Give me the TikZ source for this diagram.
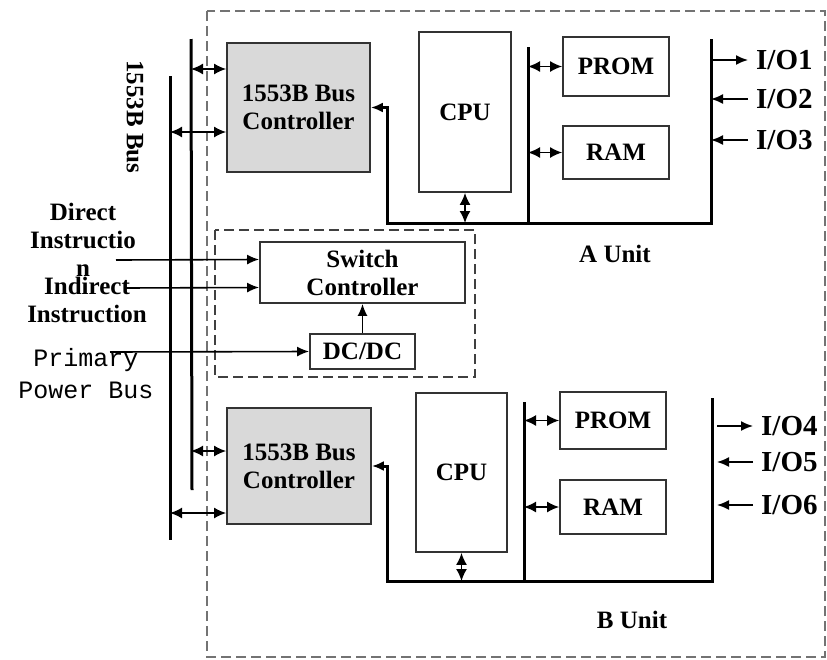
\documentclass[tikz,border=0pt]{standalone}
\usepackage{fontspec}
\setmainfont{Liberation Serif}
\newfontfamily\monofont{Liberation Mono}
\usetikzlibrary{arrows.meta}
\tikzset{
	blk/.style={draw=black!80, line width=1.8pt, inner sep=0pt, font=\bfseries\fontsize{25}{28}\selectfont, align=center},
	ctrl/.style={blk, fill=black!15},
	bus/.style={line width=3pt},
	dbl/.style={{Latex[length=12pt,width=11pt]}-{Latex[length=12pt,width=11pt]}, line width=1.6pt},
	sgl/.style={-{Latex[length=12pt,width=10pt]}, line width=1.6pt},
	lbl/.style={font=\bfseries\fontsize{25}{28}\selectfont, align=center},
	iolbl/.style={font=\bfseries\fontsize{29}{32}\selectfont, anchor=west, inner sep=8pt},
	unitbox/.style={dashed, dash pattern=on 10pt off 5pt, line width=1.6pt, draw=black!55},
	swbox/.style={dashed, dash pattern=on 10pt off 5pt, line width=1.6pt, draw=black!75}
}
\begin{document}
\begin{tikzpicture}[x=1pt, y=-1pt]
	\useasboundingbox (0,0) rectangle (827,659);
	\draw[unitbox] (207,11) rectangle (825,657);
	\draw[swbox] (215,230) rectangle (475,377);

	\node[ctrl, minimum width=143pt, minimum height=129pt] (bcA) at (298.5,107.5) {1553B Bus\\Controller};
	\node[ctrl, minimum width=144pt, minimum height=116pt] (bcB) at (299,466) {1553B Bus\\Controller};
	\node[blk, minimum width=92pt, minimum height=160pt] (cpuA) at (465,112) {CPU};
	\node[blk, minimum width=91pt, minimum height=159pt] (cpuB) at (461.5,472.5) {CPU};
	\node[blk, minimum width=106pt, minimum height=59pt] (promA) at (616,66.5) {PROM};
	\node[blk, minimum width=106pt, minimum height=53pt] (ramA) at (616,152.5) {RAM};
	\node[blk, minimum width=106pt, minimum height=57pt] (promB) at (613,420.5) {PROM};
	\node[blk, minimum width=106pt, minimum height=54pt] (ramB) at (613,507) {RAM};
	\node[blk, minimum width=205pt, minimum height=61pt] (sw) at (362.5,272.5) {Switch\\Controller};
	\node[blk, minimum width=105pt, minimum height=35pt] (dcdc) at (362.5,351.5) {DC/DC};

	\node[lbl, rotate=-90] (busname) at (135,117) {1553B Bus};
	\node[lbl] (direct) at (83,240) {Direct\\Instructio\\n};
	\node[lbl] (indirect) at (87,300) {Indirect\\Instruction};
	\node[font=\monofont\fontsize{25}{32}\selectfont, align=center] (power) at (86,374) {Primary\\Power Bus};
	\node[lbl] (unitA) at (615,254) {A Unit};
	\node[lbl] (unitB) at (632,620) {B Unit};

	\coordinate (busLtop) at (170,76);
	\coordinate (busLbot) at (170,540);
	\coordinate (busRtop) at (191,39);
	\coordinate (busRbot) at (192,490);
	\draw[bus] (busLtop) -- (busLbot);
	\draw[bus] (busRtop) -- (busRbot);
	\draw[dbl] (busRtop |- 0,69) -- (bcA.west |- 0,69);
	\draw[dbl] (busLtop |- 0,132) -- (bcA.west |- 0,132);
	\draw[dbl] (busRtop |- 0,451) -- (bcB.west |- 0,451);
	\draw[dbl] (busLtop |- 0,513) -- (bcB.west |- 0,513);

	\coordinate (aL) at (387,223);
	\coordinate (aM) at (528,223);
	\coordinate (aR) at (711,223);
	\draw[bus] (528,47) -- (aM);
	\draw[bus, -{Latex[length=12pt,width=10pt]}] (711,39) -- (aR) -- (aL) -- (aL |- bcA.east) -- (bcA.east);
	\draw[dbl] (cpuA.south) -- (cpuA.south |- aL);
	\draw[dbl] (aM |- promA.west) -- (promA.west);
	\draw[dbl] (aM |- ramA.west) -- (ramA.west);

	\coordinate (bL) at (387,581);
	\coordinate (bM) at (524,581);
	\coordinate (bR) at (712,581);
	\draw[bus] (524,402) -- (bM);
	\draw[bus, -{Latex[length=12pt,width=10pt]}] (712,398) -- (bR) -- (bL) -- (bL |- bcB.east) -- (bcB.east);
	\draw[dbl] (cpuB.south) -- (cpuB.south |- bL);
	\draw[dbl] (bM |- promB.west) -- (promB.west);
	\draw[dbl] (bM |- ramB.west) -- (ramB.west);

	\node[iolbl] (io1) at (748,60) {I/O1};
	\node[iolbl] (io2) at (748,99) {I/O2};
	\node[iolbl] (io3) at (748,140) {I/O3};
	\node[iolbl] (io4) at (753,426) {I/O4};
	\node[iolbl] (io5) at (753,462) {I/O5};
	\node[iolbl] (io6) at (753,505) {I/O6};
	\draw[sgl] (aR |- io1) -- (io1.west);
	\draw[sgl] (io2.west) -- (aR |- io2);
	\draw[sgl] (io3.west) -- (aR |- io3);
	\draw[sgl] ([xshift=5pt]bR |- io4) -- (io4.west);
	\draw[sgl] (io5.west) -- ([xshift=5pt]bR |- io5);
	\draw[sgl] (io6.west) -- ([xshift=5pt]bR |- io6);

	\coordinate (dirIn) at (116,260);
	\coordinate (indIn) at (125,288);
	\coordinate (powIn) at (110,352);
	\draw[sgl] (dirIn) -- ([yshift=13pt]sw.west);
	\draw[sgl] (indIn) -- ([yshift=-15pt]sw.west);
	\draw[sgl] (powIn) -- (dcdc.west);
	\draw[sgl] (dcdc.north) -- (sw.south);
\end{tikzpicture}
\end{document}
